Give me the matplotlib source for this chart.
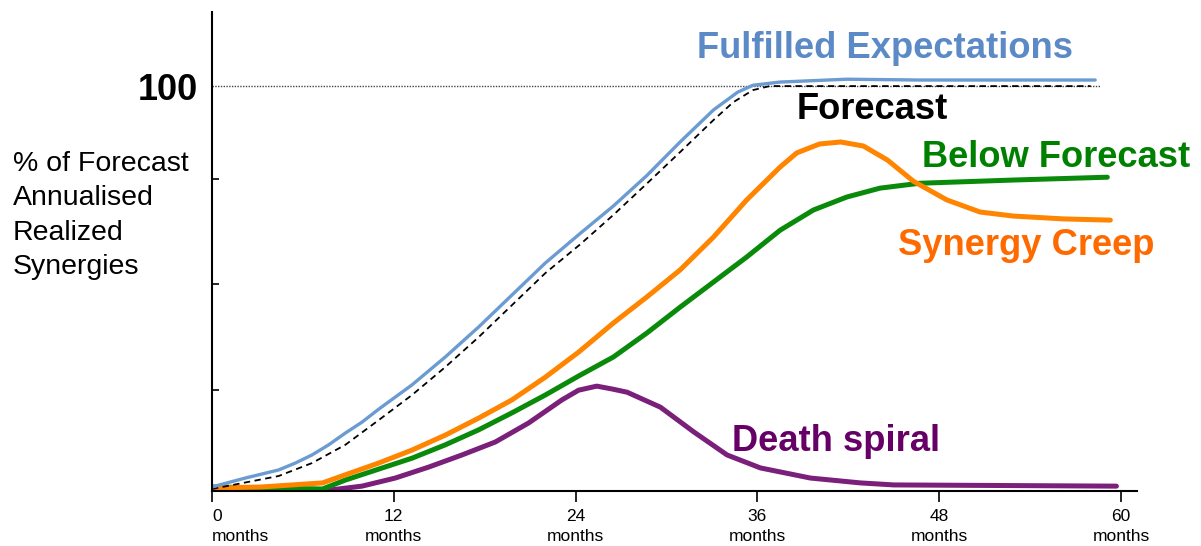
import matplotlib
matplotlib.use('Agg')
import matplotlib.pyplot as plt

plt.rcParams['font.family'] = ['Liberation Sans', 'DejaVu Sans']

# months / % of forecast
fulfilled_x = [0, 2.2, 4.4, 5.5, 6.6, 7.7, 8.8, 9.9, 11.0, 13.2, 15.4, 17.6, 19.8, 22.0, 24.3,
               26.5, 28.7, 30.9, 33.1, 34.7, 35.7, 37.5, 41.9, 46.7, 58.3]
fulfilled_y = [1.0, 3.2, 5.2, 6.9, 8.9, 11.4, 14.3, 17.0, 20.2, 26.2, 33.1, 40.5, 48.4, 56.3, 63.6,
               70.4, 77.9, 86.2, 94.1, 98.5, 100.2, 101.0, 101.7, 101.5, 101.5]

forecast_x = [0, 4.4, 6.6, 8.8, 11.0, 13.2, 15.4, 17.6, 19.8, 22.0, 24.3, 26.5, 28.7, 30.9,
              33.1, 34.4, 35.7, 36.8, 58.0]
forecast_y = [0.5, 3.7, 6.9, 11.4, 17.5, 23.7, 30.6, 38.0, 45.9, 53.8, 60.9, 68.2, 75.9, 83.7,
              91.6, 96.0, 99.0, 100.0, 100.0]

creep_x = [0, 3.3, 7.3, 8.8, 11.0, 13.2, 15.4, 17.6, 19.8, 22.0, 24.2, 26.5, 28.7, 30.9, 33.1,
           35.3, 37.5, 38.6, 40.1, 41.5, 43.0, 44.6, 46.3, 48.5, 50.7, 52.9, 56.2, 59.3]
creep_y = [0.7, 1.0, 2.0, 4.0, 6.9, 10.1, 13.8, 18.0, 22.5, 28.1, 34.3, 41.5, 47.9, 54.6, 62.7,
           71.9, 80.0, 83.5, 85.7, 86.2, 85.2, 81.7, 76.5, 71.9, 68.9, 67.9, 67.2, 66.9]

below_x = [0, 7.3, 8.8, 11.0, 13.2, 15.4, 17.6, 19.8, 22.0, 24.2, 26.5, 28.7, 30.9, 33.1, 35.3,
           37.5, 39.7, 41.9, 44.1, 46.7, 52.9, 59.1]
below_y = [1.0, 0.5, 2.7, 5.4, 8.1, 11.4, 15.1, 19.3, 23.7, 28.4, 33.1, 39.0, 45.4, 51.6, 57.8,
           64.4, 69.4, 72.6, 74.8, 76.0, 76.8, 77.5]

death_x = [0, 7.7, 9.9, 12.1, 14.3, 16.5, 18.7, 20.9, 23.1, 24.2, 25.4, 26.4, 27.4, 29.6, 31.8,
           34.0, 36.2, 39.5, 42.8, 45.0, 59.7]
death_y = [0.5, 0.2, 1.2, 3.2, 5.9, 8.9, 12.1, 16.8, 22.5, 24.9, 25.9, 25.2, 24.4, 20.7, 14.6,
           8.9, 5.7, 3.2, 2.0, 1.5, 1.2]

month_ticks = [0, 12, 24, 36, 48, 60]
month_labels = ['{}\nmonths'.format(m) for m in month_ticks]

fig = plt.figure(figsize=(12.01, 5.46), dpi=100)
ax = fig.add_axes([212 / 1201, 55 / 546, 925 / 1201, 479 / 546])

line_kw = dict(solid_capstyle='round', solid_joinstyle='round')
ax.plot([0, 58.6], [100, 100], color='#444444', lw=1, linestyle=(0, (1, 1)))
ax.plot(death_x, death_y, color='#7a1f7a', lw=3.6, **line_kw)
ax.plot(below_x, below_y, color='#0a8a0a', lw=3.6, **line_kw)
ax.plot(creep_x, creep_y, color='#ff8400', lw=3.6, **line_kw)
ax.plot(forecast_x, forecast_y, color='black', lw=1.3, linestyle=(0, (3.5, 2.5)))
ax.plot(fulfilled_x, fulfilled_y, color='#6b9bd1', lw=2.4, **line_kw)

ax.set_xlim(0, 61.06)
ax.set_ylim(0, 118.3)

for s in ['top', 'right']:
    ax.spines[s].set_visible(False)
for s in ['left', 'bottom']:
    ax.spines[s].set_linewidth(1.5)

ax.set_xticks(month_ticks)
ax.set_xticklabels(month_labels, fontsize=12.5, linespacing=1.4)
ax.get_xticklabels()[0].set_horizontalalignment('left')
ax.tick_params(axis='x', direction='out', length=8, width=1.2, pad=5)
ax.set_yticks([25, 51, 77, 100])
ax.set_yticklabels(['', '', '', '100'], fontsize=26, fontweight='bold')
ax.tick_params(axis='y', direction='in', length=5, width=1.2, pad=10)
ax.yaxis.get_major_ticks()[3].tick1line.set_visible(False)

ax.text(32.0, 106.9, 'Fulfilled Expectations', color='#5b8ac6', fontsize=26.2, fontweight='bold')
ax.text(38.6, 91.8, 'Forecast', color='black', fontsize=26.2, fontweight='bold')
ax.text(46.9, 80.0, 'Below Forecast', color='#008000', fontsize=26.2, fontweight='bold')
ax.text(45.3, 58.2, 'Synergy Creep', color='#ff6a00', fontsize=26.2, fontweight='bold')
ax.text(34.3, 9.9, 'Death spiral', color='#660066', fontsize=26.2, fontweight='bold')

fig.text(13 / 1201, 1 - 215.5 / 546, '% of Forecast\nAnnualised\nRealized\nSynergies',
         fontsize=20.5, va='center', ha='left', linespacing=1.42)

fig.savefig('out.png', dpi=100)
